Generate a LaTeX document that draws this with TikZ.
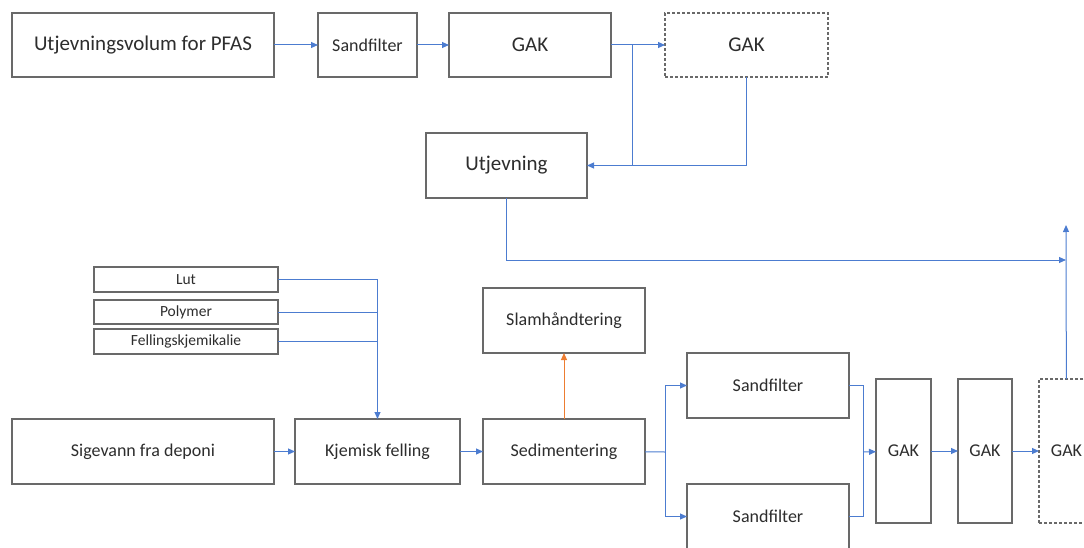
\documentclass[tikz,border=0pt]{standalone}
\usepackage{fontspec}
\setmainfont{Carlito}
\usepackage{tikz}
\usetikzlibrary{arrows.meta, positioning}
\definecolor{flowblue}{RGB}{76, 124, 208}
\definecolor{sludge}{RGB}{237, 125, 49}
\definecolor{boxgray}{RGB}{105, 105, 105}
\definecolor{txtgray}{RGB}{45, 45, 45}

\begin{document}
\begin{tikzpicture}[
			x=1pt, y=-1pt,
			box/.style={rectangle, draw=boxgray, fill=white, line width=1.1pt, align=center, inner sep=0pt, outer sep=0pt, anchor=north west, text=txtgray},
			big/.style={box, font=\fontsize{21}{23}\selectfont},
			mid/.style={box, font=\fontsize{18}{20}\selectfont},
			small/.style={box, font=\fontsize{15.5}{17}\selectfont},
			spare/.style={dash pattern=on 3pt off 2pt},
			pipe/.style={draw=flowblue, line width=1pt},
			flow/.style={pipe, -{Triangle[length=7pt, width=6pt]}},
			slam/.style={draw=sludge, line width=1pt, -{Triangle[length=7pt, width=6pt]}}
			]
			\useasboundingbox (0,0) rectangle (1084,548);
			\clip (0,0) rectangle (1084,548);
			
			% PFAS line
			\node[big, minimum width=262pt, minimum height=64pt] (pfas) at (12,13) {Utjevningsvolum for PFAS};
			\node[mid, minimum width=99pt, minimum height=64pt] (sftop) at (318,13) {Sandfilter};
			\node[big, minimum width=162pt, minimum height=64pt] (gaktop) at (449,13) {GAK};
			\node[big, spare, minimum width=163pt, minimum height=64pt] (gakspare) at (665,13) {GAK};
			\node[big, minimum width=161pt, minimum height=65pt] (utj) at (426,133) {Utjevning};
			
			% Chemicals
			\node[small, minimum width=184pt, minimum height=25pt] (lut) at (94,267) {Lut};
			\node[small, minimum width=184pt, minimum height=24pt] (poly) at (94,300) {Polymer};
			\node[small, minimum width=184pt, minimum height=25pt] (fk) at (94,329) {Fellingskjemikalie};
			
			% Leachate line
			\node[mid, minimum width=262pt, minimum height=65pt] (sig) at (12,419) {Sigevann fra deponi};
			\node[mid, minimum width=165pt, minimum height=65pt] (kf) at (295,419) {Kjemisk felling};
			\node[mid, minimum width=162pt, minimum height=65pt] (sed) at (483,419) {Sedimentering};
			\node[mid, minimum width=162pt, minimum height=65pt] (sh) at (483,288) {Slamhåndtering};
			\node[mid, minimum width=162pt, minimum height=65pt] (sfa) at (687,353) {Sandfilter};
			\node[mid, minimum width=162pt, minimum height=65pt] (sfb) at (687,484) {Sandfilter};
			\node[mid, minimum width=55pt, minimum height=144pt] (gaka) at (876,379) {GAK};
			\node[mid, minimum width=54pt, minimum height=144pt] (gakb) at (958,379) {GAK};
			\node[mid, spare, minimum width=55pt, minimum height=144pt] (gakc) at (1039,379) {GAK};
			
			% Junctions
			\coordinate (j1) at (632,45);
			\coordinate (j2) at (632,166);
			\coordinate (j3) at (1066,260);
			\coordinate (out) at (1066,225);
			\coordinate (s1) at (665,452);
			\coordinate (s2) at (863,452);
			
			% Arrows PFAS
			\draw[flow] (pfas) -- (sftop);
			\draw[flow] (sftop) -- (gaktop);
			\draw[flow] (gaktop) -- (gakspare);
			\draw[flow] (j1) |- (utj);
			\draw[pipe] (gakspare) |- (j2);
			\draw[flow] (utj) |- (j3);
			
			% Arrows leachate
			\draw[flow] (lut) -| (kf);
			\draw[pipe] (poly) -- (poly -| kf);
			\draw[pipe] (fk) -- (fk -| kf);
			\draw[flow] (sig) -- (kf);
			\draw[flow] (kf) -- (sed);
			\draw[slam] (sed) -- (sh);
			\draw[pipe] (sed) -- (s1);
			\draw[flow] (s1) |- (sfa);
			\draw[flow] (s1) |- (sfb);
			\draw[pipe] (sfa) -| (s2);
			\draw[pipe] (sfb) -| (s2);
			\draw[flow] (s2) -- (gaka);
			\draw[flow] (gaka) -- (gakb);
			\draw[flow] (gakb) -- (gakc);
			\draw[flow] (gakc) -- (out);
		\end{tikzpicture}
\end{document}
